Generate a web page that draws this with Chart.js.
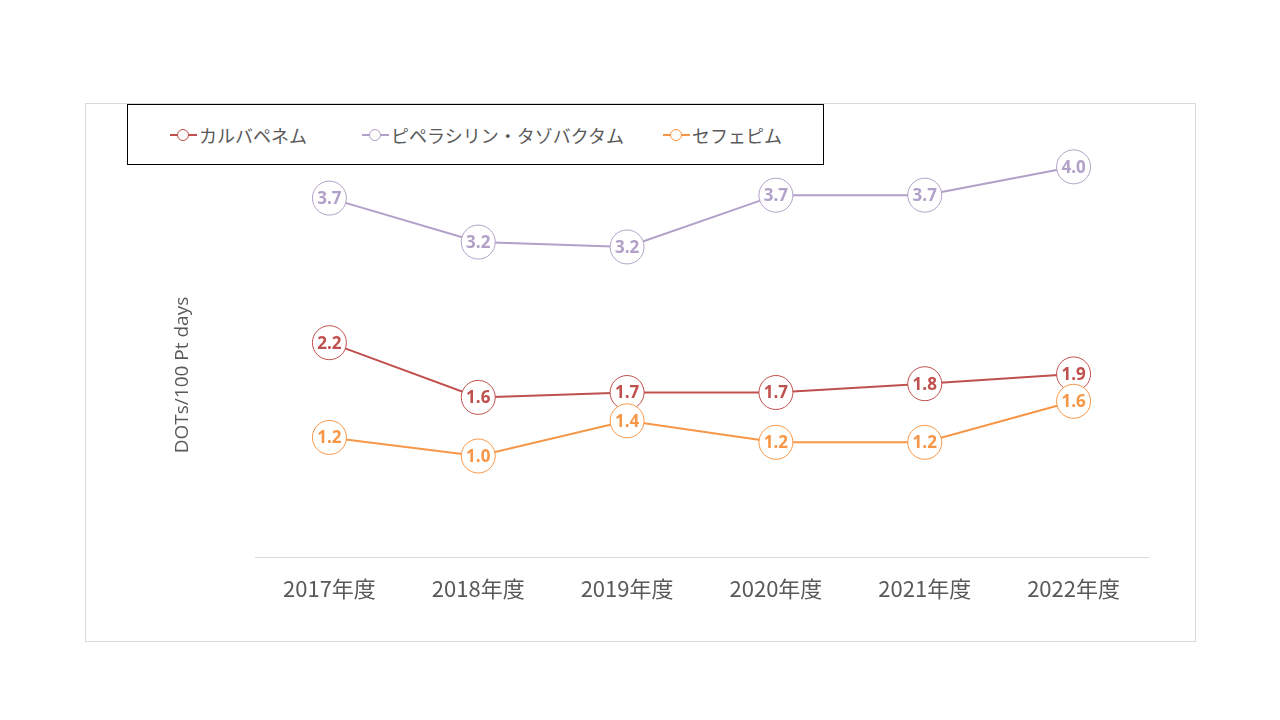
<!DOCTYPE html>
<html>
<head>
<meta charset="utf-8">
<script src="https://cdn.jsdelivr.net/npm/chart.js@4/dist/chart.umd.min.js"></script>
<style>
html, body { margin: 0; padding: 0; background: #fff; }
#wrap { position: relative; width: 1280px; height: 720px; overflow: hidden; }
#frame { position: absolute; left: 85px; top: 103px; width: 1111px; height: 539px; box-sizing: border-box; border: 1px solid #d9d9d9; }
#chart { position: absolute; left: 0; top: 0; }
#legend { position: absolute; left: 127px; top: 104px; width: 697px; height: 61px; box-sizing: border-box; border: 1px solid #000; background: #fff; }
.item { position: absolute; top: 0; height: 59px; display: flex; align-items: center; font: 18px "Noto Sans CJK JP", sans-serif; color: #595959; white-space: nowrap; }
.mk { position: relative; width: 27px; height: 2px; margin-right: 2px; }
.mk span { position: absolute; left: 7px; top: -5px; width: 12px; height: 12px; box-sizing: border-box; border-radius: 50%; border: 1.5px solid; background: #fff; }
</style>
</head>
<body>
<div id="wrap">
  <div id="frame"></div>
  <canvas id="chart" width="1280" height="720"></canvas>
  <div id="legend"></div>
</div>
<script>
const years = ["2017年度", "2018年度", "2019年度", "2020年度", "2021年度", "2022年度"];
const seriesNames = ["カルバペネム", "ピペラシリン・タゾバクタム", "セフェピム"];
const carbapenem = [2.20, 1.64, 1.69, 1.69, 1.78, 1.88];
const pipTaz = [3.68, 3.23, 3.18, 3.71, 3.71, 4.00];
const cefepime = [1.23, 1.04, 1.40, 1.18, 1.18, 1.60];
const colors = ["#C0504D", "#B1A0C7", "#F79646"];
const yTitle = "DOTs/100 Pt days";

// legend (html, drawn from the series names)
const legend = document.getElementById("legend");
const legendLeft = [42, 234, 535];
seriesNames.forEach((name, i) => {
    const item = document.createElement("div");
    item.className = "item";
    item.style.left = legendLeft[i] + "px";
    const mk = document.createElement("div");
    mk.className = "mk";
    mk.style.background = colors[i];
    const dot = document.createElement("span");
    dot.style.borderColor = colors[i];
    mk.appendChild(dot);
    item.appendChild(mk);
    const txt = document.createElement("span");
    txt.innerText = name;
    item.appendChild(txt);
    legend.appendChild(item);
});

// value inside each circle, drawn right after its own dataset
const valueLabels = {
    id: "valueLabels",
    afterDatasetDraw(chart, args) {
        const ds = chart.data.datasets[args.index];
        const ctx = chart.ctx;
        ctx.save();
        ctx.font = 'bold 17px "Open Sans", sans-serif';
        ctx.fillStyle = ds.borderColor;
        ctx.textAlign = "center";
        ctx.textBaseline = "middle";
        args.meta.data.forEach((pt, i) => {
            ctx.fillText(ds.data[i].toFixed(1), pt.x, pt.y + 1);
        });
        ctx.restore();
    }
};

// rotated y axis title
const axisTitle = {
    id: "axisTitle",
    afterDraw(chart) {
        const ctx = chart.ctx;
        ctx.save();
        ctx.translate(183, 375);
        ctx.rotate(-Math.PI / 2);
        ctx.font = '19px "Open Sans", sans-serif';
        ctx.fillStyle = "#595959";
        ctx.textAlign = "center";
        ctx.textBaseline = "middle";
        ctx.fillText(yTitle, 0, 0);
        ctx.restore();
    }
};

function makeSet(label, data, color, order) {
    return {
        label: label,
        data: data,
        borderColor: color,
        backgroundColor: color,
        borderWidth: 2,
        pointRadius: 17,
        pointHoverRadius: 17,
        pointBackgroundColor: "#fff",
        pointBorderColor: color,
        pointBorderWidth: 1,
        tension: 0,
        order: order
    };
}

new Chart(document.getElementById("chart"), {
    type: "line",
    data: {
        labels: years,
        datasets: [
            makeSet(seriesNames[0], carbapenem, colors[0], 2),
            makeSet(seriesNames[1], pipTaz, colors[1], 1),
            makeSet(seriesNames[2], cefepime, colors[2], 0)
        ]
    },
    options: {
        responsive: false,
        animation: false,
        events: [],
        layout: { padding: { left: 255, right: 132, top: 118, bottom: 100 } },
        plugins: {
            legend: { display: false },
            tooltip: { enabled: false }
        },
        scales: {
            x: {
                offset: true,
                grid: { display: false, drawTicks: false },
                border: { color: "#d9d9d9", width: 1 },
                ticks: {
                    color: "#595959",
                    font: { family: '"Noto Sans CJK JP", sans-serif', size: 22 },
                    padding: 18,
                    maxRotation: 0
                }
            },
            y: {
                display: false,
                min: 0,
                max: 4.5
            }
        }
    },
    plugins: [valueLabels, axisTitle]
});
</script>
</body>
</html>
